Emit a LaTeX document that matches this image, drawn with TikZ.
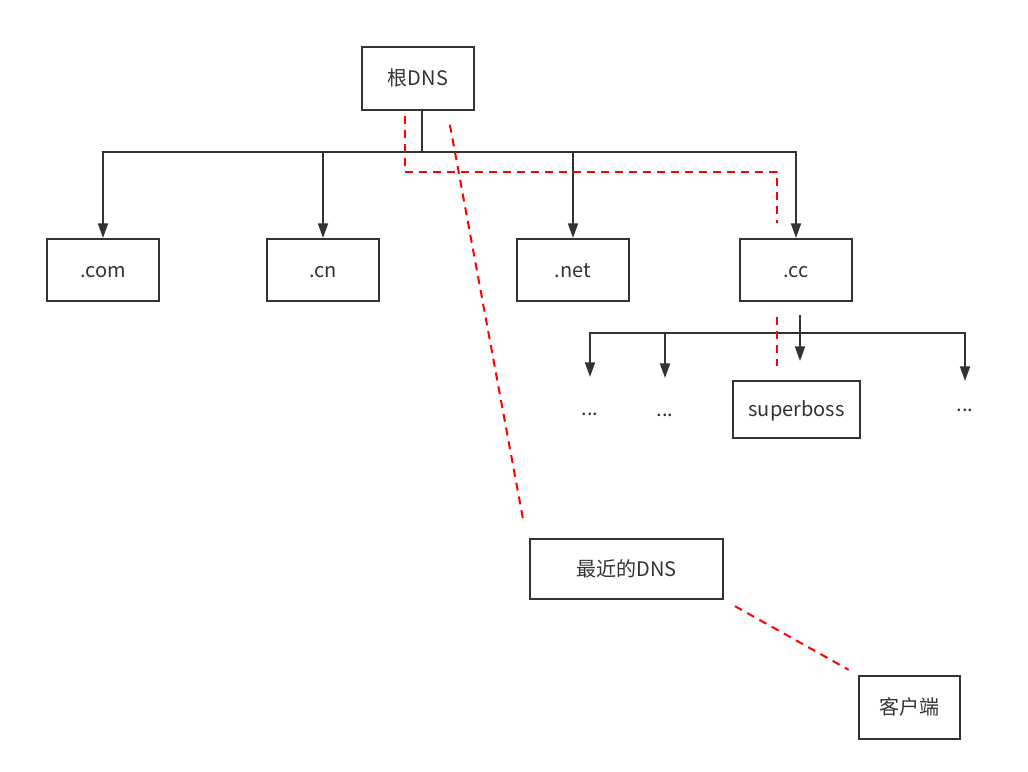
\documentclass[tikz,border=0pt]{standalone}
\usepackage{fontspec}
\setmainfont{Noto Sans CJK SC}
\usepackage{tikz}
\usetikzlibrary{arrows.meta}
\definecolor{inkgray}{RGB}{51,51,51}
\definecolor{lookupred}{RGB}{255,0,0}

\begin{document}
\begin{tikzpicture}[
  x=0.75pt, y=-0.75pt,
  font=\fontsize{15}{18}\selectfont, text=inkgray,
  box/.style={draw=inkgray,line width=1.5pt,minimum width=84pt,minimum height=46.5pt,inner sep=0pt,text height=11pt,text depth=0.5pt},
  dots/.style={anchor=north,inner sep=0pt,text height=28.5pt,text depth=0pt},
  line/.style={draw=inkgray,line width=1.5pt},
  arrow/.style={line,-{Triangle[length=11pt,width=7.5pt]}},
  lookup/.style={draw=lookupred,line width=1.5pt,dash pattern=on 6pt off 4.5pt}
]
\useasboundingbox (0,0) rectangle (1028,771);

% servers
\node[box,minimum height=47.25pt] (root) at (418,78.5) {根DNS};
\node[box] (com) at (103,270) {.com};
\node[box] (cn) at (323,270) {.cn};
\node[box] (net) at (573,270) {.net};
\node[box] (cc) at (796,270) {.cc};
\node[box,minimum width=95.25pt,minimum height=42.75pt] (boss) at (796.5,409.5) {superboss};
\node[dots] (dotA) at (590,377) {...};
\node[dots] (dotB) at (665,378) {...};
\node[dots,text height=22.5pt] (dotC) at (965,381) {...};
\node[box,minimum width=144.75pt,minimum height=45pt] (near) at (626.5,569) {最近的DNS};
\node[box,minimum width=75.75pt,minimum height=47.25pt] (client) at (909.5,707.5) {客户端};

% tree under the root
\coordinate (rootbus) at (422,152);
\draw[line] (root.south -| rootbus) -- (rootbus);
\draw[line,line cap=rect] (com.north |- rootbus) -- (cc.north |- rootbus);
\foreach \n in {com,cn,net,cc}
  \draw[arrow] (\n.north |- rootbus) -- (\n);

% tree under .cc
\coordinate (ccbus) at (800,333);
\draw[arrow,shorten <=9.75pt,shorten >=14.25pt] (cc.south -| ccbus) -- (boss.north -| ccbus);
\draw[line,line cap=rect] (dotA |- ccbus) -- (dotC |- ccbus);
\foreach \n in {dotA,dotB,dotC}
  \draw[arrow] (\n |- ccbus) -- (\n);

% lookup path
\coordinate (qa) at (405,172);
\coordinate (qb) at (777,172);
\draw[lookup,shorten <=3.75pt,shorten >=11.25pt] (root.south -| qa) -- (qa) -- (qb) -- (cc.north -| qb);
\draw[lookup,shorten <=11.25pt,shorten >=10.5pt] (cc.south -| qb) -- (boss.north -| qb);
\draw[lookup,shorten <=10.5pt,shorten >=15pt] ([xshift=22pt]root.south) -- ([xshift=-75pt]near.north);
\draw[lookup,shorten <=9.4pt,shorten >=8pt] (near.south east) -- (client.north west);
\end{tikzpicture}
\end{document}
